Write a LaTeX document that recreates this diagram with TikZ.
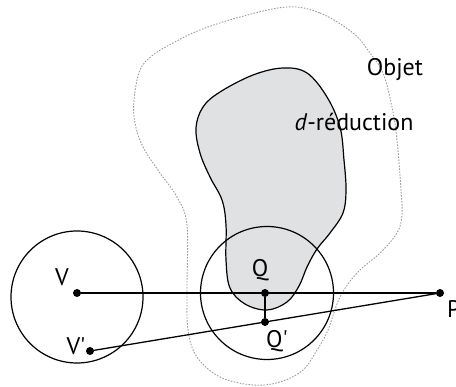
\documentclass[tikz,border=0pt]{standalone}
\usepackage{fontspec}
\setmainfont{PT Sans}
\begin{document}
\begin{tikzpicture}[x=1pt,y=-1pt,
  dot/.style={circle,fill=black,inner sep=0pt,minimum size=8pt},
  ring/.style={circle,draw=black,line width=1.2pt,inner sep=0pt,minimum size=#1},
  lbl/.style={anchor=base,inner sep=0pt,font=\fontsize{24}{28}\selectfont},
  ln/.style={line width=1.3pt}]
\useasboundingbox (0,0) rectangle (456,387);
% dotted outer object
\draw[gray!80,line width=0.9pt,dash pattern=on 1.5pt off 1.5pt] plot[smooth cycle,tension=0.6] coordinates {
 (287,7) (320,13) (353,33) (370,53) (383,73) (392,107) (397,140) (401,190) (402,215)
 (397,233) (380,253) (357,273) (340,297) (328,330) (317,350) (303,370) (280,382)
 (253,385) (220,377) (197,357) (188,330) (187,290) (187,225) (177,197) (160,173)
 (143,147) (135,123) (134,100) (140,70) (153,55) (173,43) (200,30) (240,17)};
% d-reduction blob
\filldraw[fill={rgb,255:red,224;green,225;blue,227},draw=black,line width=1.2pt] plot[smooth cycle,tension=0.6] coordinates {
 (283,68) (307,73) (327,97) (340,127) (344,160) (346,190) (343,213) (330,233) (317,249)
 (307,267) (299,286) (287,302) (267,310) (245,304) (230,288) (226,260) (226,225)
 (222,200) (210,177) (200,153) (196,128) (203,107) (220,92) (253,75)};
% circles
\node[ring=132pt] (CV) at (77,297) {};
\node[ring=133pt] (CQ) at (267,293) {};
% points
\node[dot] (V) at (77,293) {};
\node[dot] (Vp) at (90,351) {};
\node[dot] (Q) at (265,293) {};
\node[dot] (Qp) at (265,322) {};
\node[dot] (P) at (440,293) {};
% connectors
\draw[ln] (V) -- (P);
\draw[ln] (Vp.center) -- (P.center);
\draw[ln] (Q) -- (Qp);
% labels
\node[lbl] (lV) at (62,286) {V};
\node[lbl] (lVp) at (76,355) {V\textquotesingle};
\node[lbl] (lQ) at (260,277) {Q};
\node[lbl] (lQp) at (277,348) {Q\textquotesingle};
\node[lbl,anchor=base west] (lP) at (447,318) {P};
\node[lbl] (lObj) at (395,76) {Objet};
\node[lbl] (lRed) at (354,131) {\textit{d}-réduction};
\end{tikzpicture}
\end{document}
